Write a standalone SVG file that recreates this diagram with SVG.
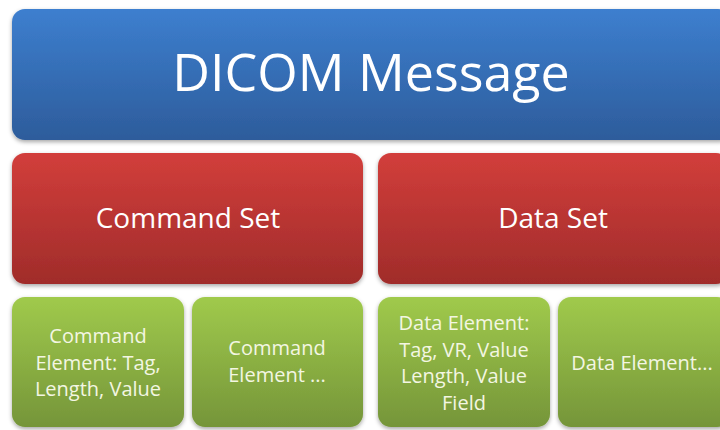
<svg xmlns="http://www.w3.org/2000/svg" width="720" height="430" viewBox="0 0 720 430">
  <defs>
    <linearGradient id="gBlue" x1="0" y1="0" x2="0" y2="1">
      <stop offset="0" stop-color="#3d7fcf"/>
      <stop offset="1" stop-color="#2d5c9b"/>
    </linearGradient>
    <linearGradient id="gRed" x1="0" y1="0" x2="0" y2="1">
      <stop offset="0" stop-color="#d23e3b"/>
      <stop offset="1" stop-color="#a02c2a"/>
    </linearGradient>
    <linearGradient id="gGreen" x1="0" y1="0" x2="0" y2="1">
      <stop offset="0" stop-color="#a0ca4c"/>
      <stop offset="1" stop-color="#759539"/>
    </linearGradient>
    <filter id="shadow" x="-5%" y="-5%" width="110%" height="115%">
      <feDropShadow dx="0" dy="2" stdDeviation="2" flood-color="#000" flood-opacity="0.35"/>
    </filter>
  </defs>
  <style>
    .box { filter: url(#shadow); }
    .blue { fill: url(#gBlue); }
    .red { fill: url(#gRed); }
    .green { fill: url(#gGreen); }
    text { font-family: "Open Sans", "Liberation Sans", sans-serif; text-anchor: middle; }
    .t1 { font-size: 52px; fill: #ffffff; }
    .t2 { font-size: 28px; fill: #ffffff; }
    .t3 { font-size: 20px; fill: #f3f6e2; }
  </style>
  <rect width="720" height="430" fill="#ffffff"/>

  <g id="message">
    <rect class="box blue" x="12" y="9" width="719" height="131" rx="13"/>
    <text class="t1" x="371" y="91">DICOM Message</text>
  </g>

  <g id="command-set">
    <rect class="box red" x="12" y="153" width="351" height="131" rx="13"/>
    <text class="t2" x="188" y="228">Command Set</text>
  </g>

  <g id="data-set">
    <rect class="box red" x="378" y="153" width="351" height="131" rx="13"/>
    <text class="t2" x="553" y="228">Data Set</text>
  </g>

  <g id="command-element-1">
    <rect class="box green" x="12" y="297" width="172" height="130" rx="13"/>
    <text class="t3" x="98"><tspan x="98" y="343">Command</tspan><tspan x="98" y="369.5">Element: Tag,</tspan><tspan x="98" y="396">Length, Value</tspan></text>
  </g>

  <g id="command-element-2">
    <rect class="box green" x="192" y="297" width="171" height="130" rx="13"/>
    <text class="t3" x="277"><tspan x="277" y="355">Command</tspan><tspan x="277" y="382">Element ...</tspan></text>
  </g>

  <g id="data-element-1">
    <rect class="box green" x="378" y="297" width="172" height="130" rx="13"/>
    <text class="t3" x="464"><tspan x="464" y="330">Data Element:</tspan><tspan x="464" y="356.5">Tag, VR, Value</tspan><tspan x="464" y="383">Length, Value</tspan><tspan x="464" y="409.5">Field</tspan></text>
  </g>

  <g id="data-element-2">
    <rect class="box green" x="558" y="297" width="172" height="130" rx="13"/>
    <text class="t3" x="642" y="369.5">Data Element...</text>
  </g>

  <g id="connectors"/>
</svg>
